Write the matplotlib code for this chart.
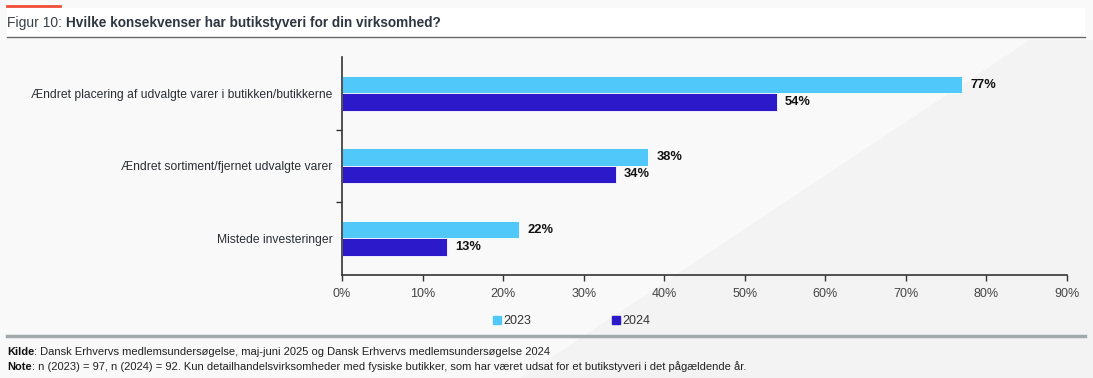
import matplotlib.pyplot as plt
from matplotlib.patches import Polygon, Rectangle
from matplotlib.lines import Line2D
import numpy as np

categories = [
    'Ændret placering af udvalgte varer i butikken/butikkerne',
    'Ændret sortiment/fjernet udvalgte varer',
    'Mistede investeringer',
]
series_names = ['2023', '2024']
values_2023 = [77, 38, 22]
values_2024 = [54, 34, 13]
x_ticks = [0, 10, 20, 30, 40, 50, 60, 70, 80, 90]

color_2023 = '#50c8f9'
color_2024 = '#2c19c9'
text_dark = '#2b2f33'

plt.rcParams['font.family'] = ['Liberation Sans', 'DejaVu Sans']

fig = plt.figure(figsize=(10.93, 3.78), dpi=100)
fig.patch.set_facecolor('#f9f9f9')

# subtle diagonal shading in the background
fig.patches.append(Polygon([(1030 / 1093, 1 - 40 / 378), (1, 1 - 40 / 378), (1, 0), (520 / 1093, 0)],
                           closed=True, transform=fig.transFigure, facecolor='#f3f3f3',
                           edgecolor='none', zorder=-10))
# white title band
fig.patches.append(Rectangle((7 / 1093, 1 - 37 / 378), 1078 / 1093, 29 / 378, transform=fig.transFigure,
                             facecolor='white', edgecolor='none', zorder=-5))

ax = fig.add_axes([342 / 1093, 1 - 274.5 / 378, 725 / 1093, 217.5 / 378])
ax.set_facecolor('none')

y = np.arange(len(categories))
h = 0.24
ax.barh(y - h / 2, values_2023, height=h, color=color_2023, edgecolor='white', linewidth=0.6, label='2023')
ax.barh(y + h / 2, values_2024, height=h, color=color_2024, edgecolor='white', linewidth=0.6, label='2024')

for i in range(len(categories)):
    ax.text(values_2023[i] + 1.0, y[i] - h / 2, f'{values_2023[i]}%', va='center', ha='left',
            fontsize=9.3, fontweight='bold', color='#111111')
    ax.text(values_2024[i] + 1.0, y[i] + h / 2, f'{values_2024[i]}%', va='center', ha='left',
            fontsize=9.3, fontweight='bold', color='#111111')

ax.set_ylim(len(categories) - 0.5, -0.5)
ax.set_xlim(0, 90)
ax.set_yticks(y)
ax.set_yticklabels(categories, fontsize=8.7, color=text_dark)
ax.set_yticks([0.5, 1.5], minor=True)
ax.tick_params(axis='y', which='major', length=0, pad=7)
ax.tick_params(axis='y', which='minor', length=4, width=1, color='#333333')
ax.set_xticks(x_ticks)
ax.set_xticklabels([f'{t}%' for t in x_ticks], fontsize=9, color='#444444')
ax.tick_params(axis='x', length=4, width=1, color='#333333', pad=6)

for side in ['top', 'right']:
    ax.spines[side].set_visible(False)
for side in ['left', 'bottom']:
    ax.spines[side].set_color('#333333')
    ax.spines[side].set_linewidth(1.2)

handles = [Line2D([], [], marker='s', linestyle='none', markersize=6, color=c) for c in [color_2023, color_2024]]
fig.legend(handles, series_names, loc='center', bbox_to_anchor=(572 / 1093, 1 - 321 / 378), ncol=2,
           frameon=False, fontsize=9, handlelength=0.6, handletextpad=0.2, columnspacing=6.5,
           labelcolor='#333333')

# title
fig.add_artist(Line2D([7 / 1093, 60 / 1093], [1 - 6 / 378, 1 - 6 / 378], color='#f04e37', linewidth=2))
t1 = fig.text(7 / 1093, 1 - 23 / 378, 'Figur 10: ', fontsize=10, color='#3a4047', va='center', ha='left')
fig.canvas.draw()
bb = t1.get_window_extent()
fig.text(bb.x1 / 1093, 1 - 23 / 378, 'Hvilke konsekvenser har butikstyveri for din virksomhed?',
         fontsize=9.8, fontweight='bold', color='#2e3640', va='center', ha='left')
fig.add_artist(Line2D([7 / 1093, 1085 / 1093], [1 - 37 / 378, 1 - 37 / 378], color='#6a6a6a', linewidth=1))

# bottom rule and source notes
fig.add_artist(Line2D([7 / 1093, 1085 / 1093], [1 - 336 / 378, 1 - 336 / 378], color='#a3a8ab', linewidth=2.5))
note_font = ['Liberation Sans Narrow', 'Liberation Sans', 'DejaVu Sans']
k = fig.text(7 / 1093, 1 - 352 / 378, 'Kilde', fontsize=8, fontweight='bold', family=note_font,
             color='#111111', va='center')
fig.canvas.draw()
x1 = k.get_window_extent().x1
fig.text(x1 / 1093, 1 - 352 / 378, ': Dansk Erhvervs medlemsundersøgelse, maj-juni 2025 og Dansk Erhvervs medlemsundersøgelse 2024',
         fontsize=8, family=note_font, color='#222222', va='center')
n = fig.text(7 / 1093, 1 - 367 / 378, 'Note', fontsize=8, fontweight='bold', family=note_font,
             color='#111111', va='center')
fig.canvas.draw()
x1 = n.get_window_extent().x1
fig.text(x1 / 1093, 1 - 367 / 378,
         ': n (2023) = 97, n (2024) = 92. Kun detailhandelsvirksomheder med fysiske butikker, som har været udsat for et butikstyveri i det pågældende år.',
         fontsize=8, family=note_font, color='#222222', va='center')

fig.savefig('out.png', dpi=100, facecolor=fig.get_facecolor())
